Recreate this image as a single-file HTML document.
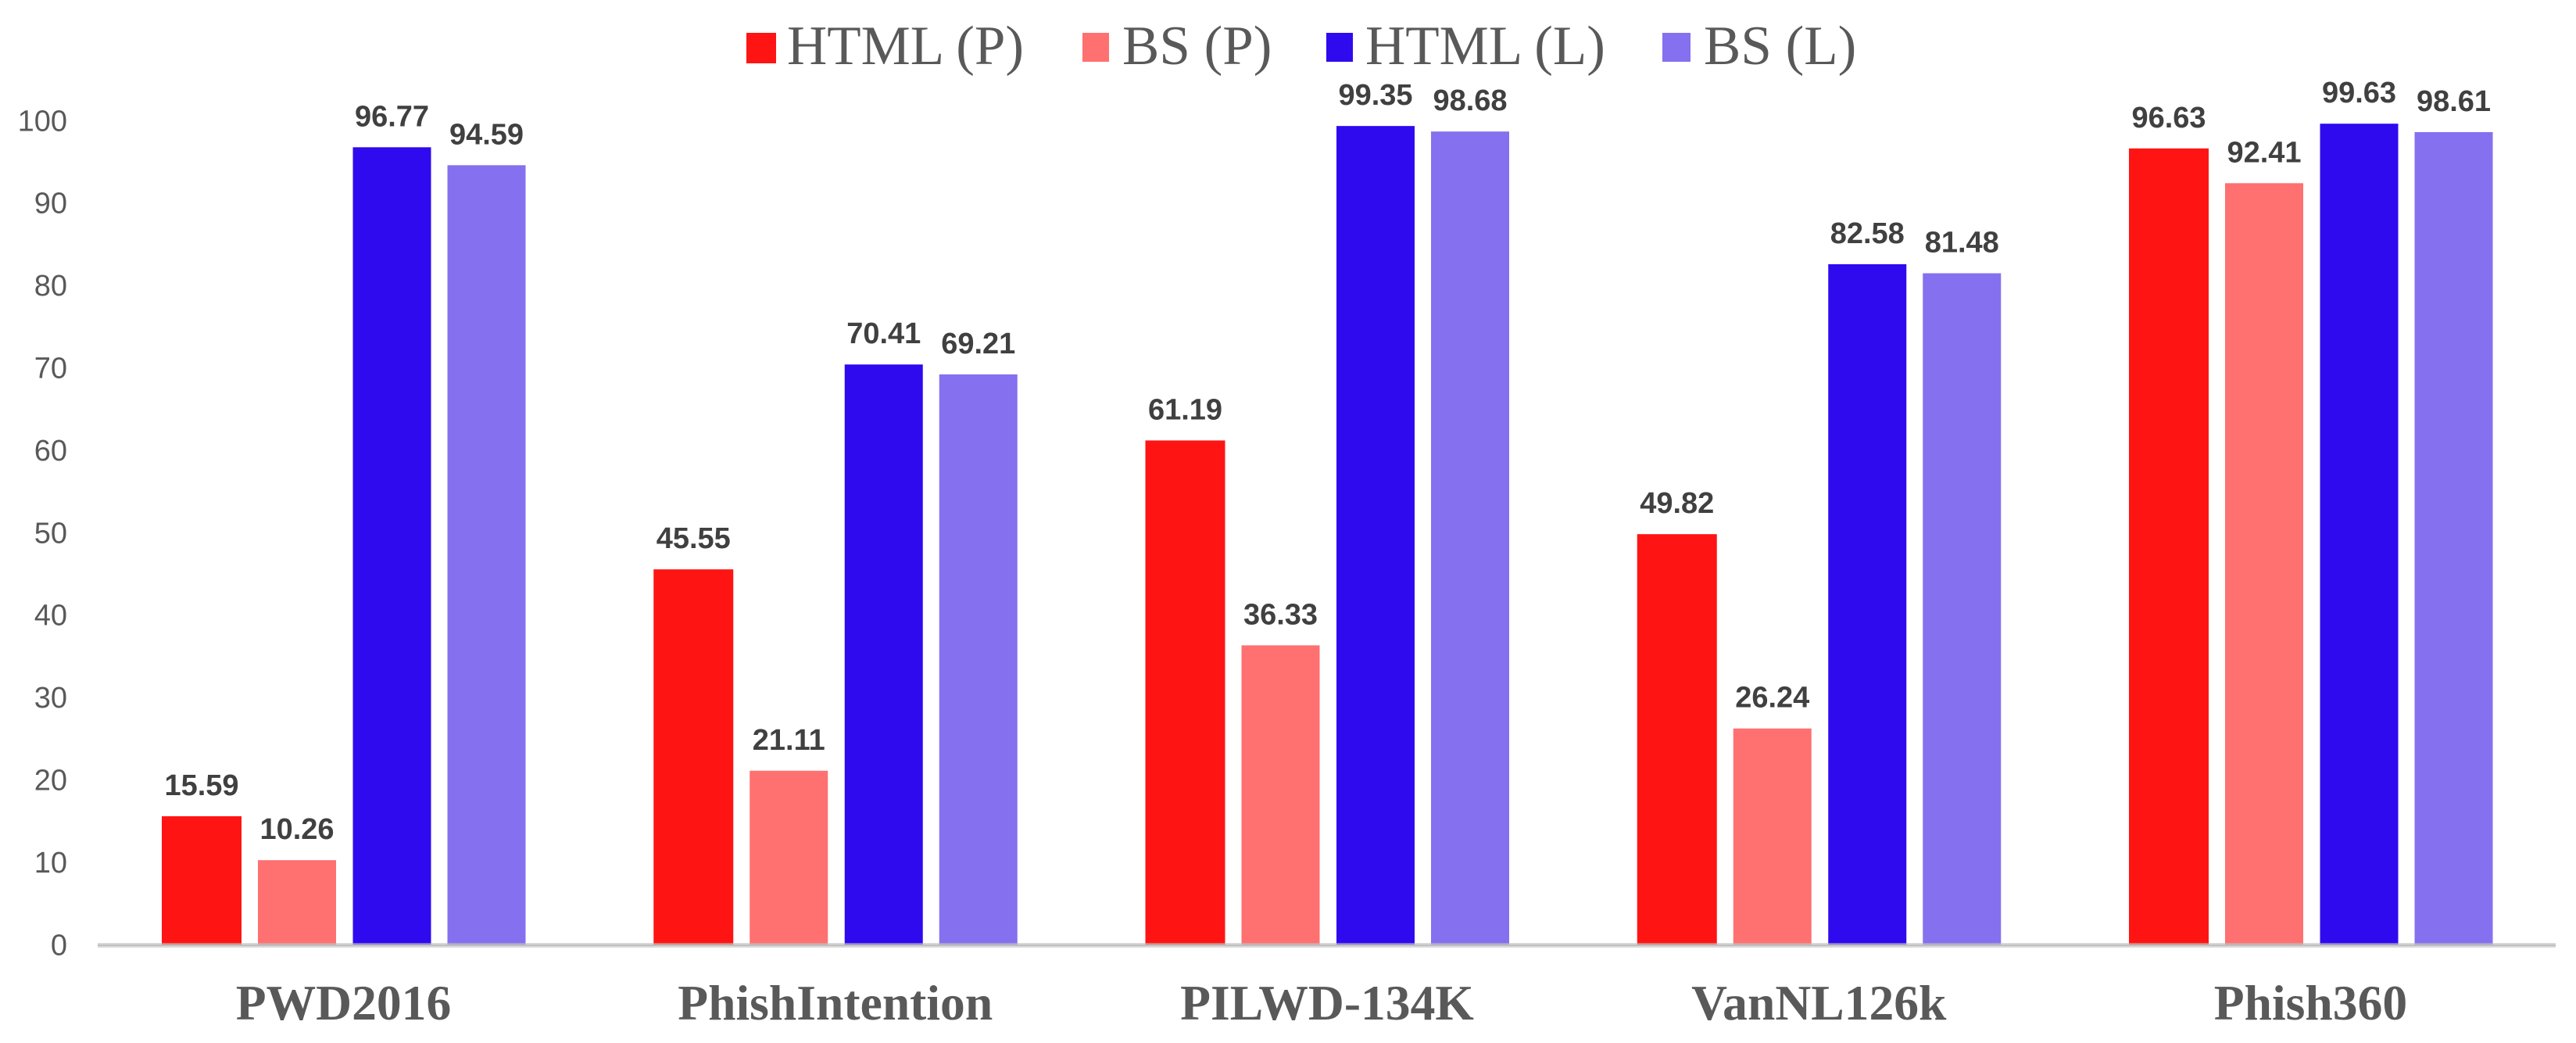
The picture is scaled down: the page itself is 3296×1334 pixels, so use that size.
<!DOCTYPE html>
<html lang="en">
<head>
<meta charset="utf-8">
<title>Grouped bar chart</title>
<style>
html,body{margin:0;padding:0;background:#fff;}
body{width:3296px;height:1334px;overflow:hidden;}
svg{display:block;}
.legend-text{font-family:"Liberation Serif",serif;font-size:71px;fill:#595959;}
.tick{font-family:"Liberation Sans",sans-serif;font-size:38px;fill:#595959;text-anchor:end;}
.val{font-family:"Liberation Sans",sans-serif;font-size:38px;font-weight:bold;fill:#404040;text-anchor:middle;}
.cat{font-family:"Liberation Serif",serif;font-size:63.6px;font-weight:bold;fill:#595959;text-anchor:middle;}
</style>
</head>
<body>
<svg id="chart" xmlns="http://www.w3.org/2000/svg" width="3296" height="1334" viewBox="0 0 3296 1334">
  <rect x="0" y="0" width="3296" height="1334" fill="#ffffff"/>
  <g id="legend">
    <g>
      <rect x="955" y="42" width="38" height="39" fill="#ff1414"/>
      <text class="legend-text" x="1007" y="82">HTML (P)</text>
    </g>
    <g>
      <rect x="1385" y="42" width="34" height="37" fill="#ff7070"/>
      <text class="legend-text" x="1436" y="82">BS (P)</text>
    </g>
    <g>
      <rect x="1697" y="42" width="34" height="37" fill="#2f0aef"/>
      <text class="legend-text" x="1747" y="82">HTML (L)</text>
    </g>
    <g>
      <rect x="2127" y="42" width="36" height="37" fill="#8570ef"/>
      <text class="legend-text" x="2180" y="82">BS (L)</text>
    </g>
  </g>
  <g id="y-axis"></g>
  <g id="bars"></g>
  <g id="value-labels"></g>
  <g id="x-axis">
    <rect x="125" y="1206" width="3145" height="6" fill="#bfbfbf" fill-opacity="0.6"/>
    <rect x="125" y="1208" width="3145" height="2" fill="#bfbfbf"/>
  </g>
</svg>
<script>
const categories = ["PWD2016", "PhishIntention", "PILWD-134K", "VanNL126k", "Phish360"];
const htmlP = [15.59, 45.55, 61.19, 49.82, 96.63];
const bsP = [10.26, 21.11, 36.33, 26.24, 92.41];
const htmlL = [96.77, 70.41, 99.35, 82.58, 99.63];
const bsL = [94.59, 69.21, 98.68, 81.48, 98.61];
const yTicks = [0, 10, 20, 30, 40, 50, 60, 70, 80, 90, 100];

const NS = "http://www.w3.org/2000/svg";
const seriesList = [
  { key: "html-p", values: htmlP, color: "#ff1414", offset: 0, width: 102 },
  { key: "bs-p", values: bsP, color: "#ff7070", offset: 123, width: 100 },
  { key: "html-l", values: htmlL, color: "#2f0aef", offset: 244.5, width: 100 },
  { key: "bs-l", values: bsL, color: "#8570ef", offset: 365.5, width: 100 }
];
function yScale(v) { return 1208.3 - v * 10.54; }
function groupX(i) { return 207 + i * 629.25; }

const yAxisGroup = document.getElementById("y-axis");
const barsGroup = document.getElementById("bars");
const valuesGroup = document.getElementById("value-labels");
const xAxisGroup = document.getElementById("x-axis");

yTicks.forEach(function (t) {
  const el = document.createElementNS(NS, "text");
  
  
  el.setAttribute("class", "tick");
  el.setAttribute("x", 86);
  el.setAttribute("y", yScale(t) + 13);
  el.textContent = String(t);
  yAxisGroup.appendChild(el);
});

seriesList.forEach(function (s) {
  s.values.forEach(function (v, i) {
    const bar = document.createElementNS(NS, "rect");
    
    
    bar.setAttribute("x", groupX(i) + s.offset);
    bar.setAttribute("y", yScale(v));
    bar.setAttribute("width", s.width);
    bar.setAttribute("height", yScale(0) - yScale(v));
    bar.setAttribute("fill", s.color);
    barsGroup.appendChild(bar);

    const label = document.createElementNS(NS, "text");
    
    
    label.setAttribute("class", "val");
    label.setAttribute("x", groupX(i) + s.offset + s.width / 2);
    label.setAttribute("y", yScale(v) - 27);
    label.textContent = v.toFixed(2);
    valuesGroup.appendChild(label);
  });
});

categories.forEach(function (c, i) {
  const el = document.createElementNS(NS, "text");
  
  
  el.setAttribute("class", "cat");
  el.setAttribute("x", groupX(i) + 232.5);
  el.setAttribute("y", 1304);
  el.textContent = c;
  xAxisGroup.appendChild(el);
});
</script>
</body>
</html>
